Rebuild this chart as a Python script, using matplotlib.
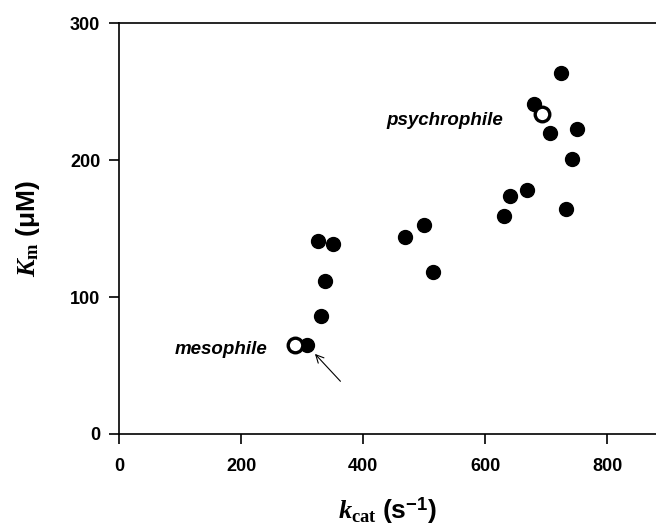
import matplotlib
matplotlib.use("Agg")
import matplotlib.pyplot as plt

# data (kcat in s^-1, Km in uM)
kcat_filled = [308, 331, 338, 326, 351, 468, 500, 515, 631, 641, 669, 680, 725, 707, 751, 743, 733]
km_filled = [65, 86, 112, 141, 139, 144, 153, 118, 159, 174, 178, 241, 264, 220, 223, 201, 164]
kcat_open = [289, 693]
km_open = [65, 234]
labels_open = ["mesophile", "psychrophile"]

plt.rcParams['mathtext.fontset'] = 'custom'
plt.rcParams['mathtext.it'] = 'Liberation Serif:italic:bold'
plt.rcParams['mathtext.rm'] = 'Liberation Serif:bold'
plt.rcParams['mathtext.bf'] = 'Liberation Sans:bold'

fig = plt.figure(figsize=(6.56, 5.27), dpi=100)
ax = fig.add_axes([0.1814, 0.1765, 0.8186, 0.7793])

ax.plot(kcat_filled, km_filled, 'o', color='black', markersize=10, zorder=3)
ax.plot(kcat_open, km_open, 'o', markerfacecolor='white', markeredgecolor='black',
        markersize=10.5, markeredgewidth=2.4, zorder=4)

ax.set_xlim(0, 880)
ax.set_ylim(0, 300)
ax.set_xticks([0, 200, 400, 600, 800])
ax.set_yticks([0, 100, 200, 300])

for s in ['left', 'bottom', 'top']:
    ax.spines[s].set_linewidth(1.2)
ax.spines['right'].set_visible(False)
ax.tick_params(direction='out', length=7.5, width=1.2, labelsize=13)
ax.tick_params(axis='x', pad=10)
ax.tick_params(axis='y', pad=6)
for lab in ax.get_xticklabels() + ax.get_yticklabels():
    lab.set_fontfamily('Liberation Sans')
    lab.set_fontweight('bold')

ax.set_xlabel(r'$\mathit{k}_{\mathrm{cat}}\ \mathbf{(s}^{\mathbf{-1}}\mathbf{)}$', fontsize=19, labelpad=14)
ax.set_ylabel(r'$\mathit{K}_{\mathrm{m}}\ \mathbf{(\mu M)}$', fontsize=19, labelpad=20)

ax.text(243, 62, labels_open[0], ha='right', va='center', fontsize=13.5,
        fontfamily='Liberation Sans', fontweight='bold', fontstyle='italic')
ax.text(630, 229, labels_open[1], ha='right', va='center', fontsize=13.5,
        fontfamily='Liberation Sans', fontweight='bold', fontstyle='italic')

ax.annotate('', xy=(318, 60), xytext=(366, 37),
            arrowprops=dict(arrowstyle='->', color='black', lw=0.8, mutation_scale=14))

fig.savefig('out.png', dpi=100)
